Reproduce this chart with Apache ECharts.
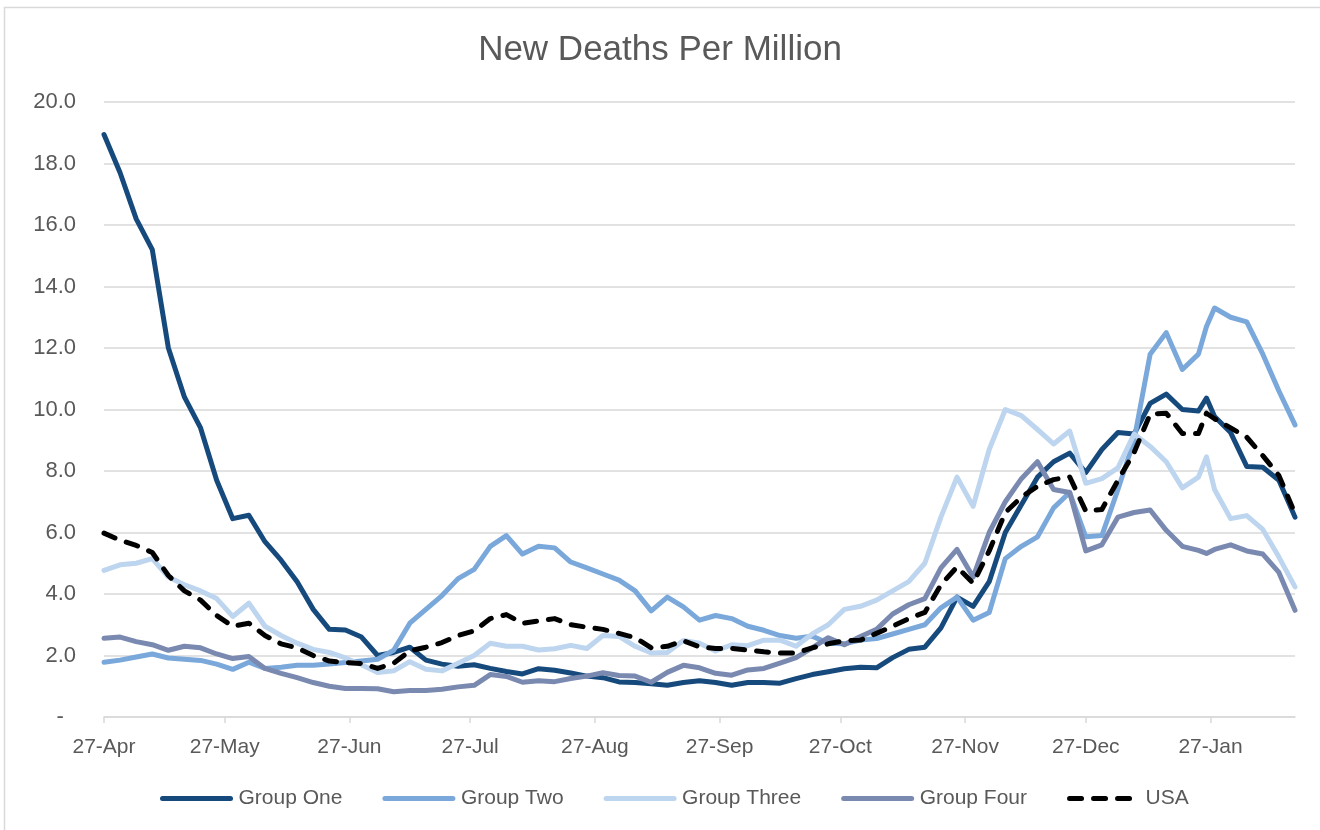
<!DOCTYPE html>
<html>
<head>
<meta charset="utf-8">
<title>New Deaths Per Million</title>
<script src="https://cdn.jsdelivr.net/npm/echarts@6/dist/echarts.min.js"></script>
<style>
  html, body { margin: 0; padding: 0; background: #fff; }
  #chart { width: 1320px; height: 830px; }
</style>
</head>
<body>
<div id="chart"></div>
<script>
var sampleDays = [0, 4, 8, 12, 16, 20, 24, 28, 32, 36, 40, 44, 48, 52, 56, 60, 64, 68, 72, 76,
  80, 84, 88, 92, 96, 100, 104, 108, 112, 116, 120, 124, 128, 132, 136, 140, 144, 148, 152, 156,
  160, 164, 168, 172, 176, 180, 184, 188, 192, 196, 200, 204, 208, 212, 216, 220, 224, 228, 232, 236,
  240, 244, 248, 252, 256, 260, 264, 268, 272, 274, 276, 280, 284, 288, 292, 296];

// axis ticks (27th of each month)
var tickDays = [0, 30, 61, 91, 122, 153, 183, 214, 244, 275];
var tickLabels = ['27-Apr', '27-May', '27-Jun', '27-Jul', '27-Aug', '27-Sep', '27-Oct', '27-Nov', '27-Dec', '27-Jan'];

var groupOne = [18.94, 17.7, 16.2, 15.2, 12.0, 10.4, 9.4, 7.7, 6.45, 6.56,
  5.7, 5.1, 4.4, 3.5, 2.85, 2.83, 2.6, 2.0, 2.1, 2.27,
  1.85, 1.72, 1.65, 1.7, 1.58, 1.48, 1.4, 1.57, 1.52, 1.43,
  1.33, 1.28, 1.14, 1.12, 1.08, 1.03, 1.12, 1.18, 1.12, 1.03,
  1.12, 1.12, 1.1, 1.25, 1.38, 1.47, 1.57, 1.62, 1.6, 1.93,
  2.2, 2.27, 2.9, 3.9, 3.6, 4.4, 6.0, 6.9, 7.8, 8.3,
  8.58, 7.95, 8.7, 9.25, 9.2, 10.2, 10.5, 10.0, 9.95, 10.37, 9.77,
  9.25, 8.15, 8.12, 7.7, 6.5];

var groupTwo = [1.78, 1.85, 1.95, 2.05, 1.92, 1.88, 1.84, 1.72, 1.55, 1.78,
  1.58, 1.62, 1.68, 1.68, 1.72, 1.77, 1.82, 1.88, 2.17, 3.05,
  3.5, 3.95, 4.5, 4.8, 5.55, 5.9, 5.3, 5.55, 5.5, 5.04,
  4.85, 4.65, 4.45, 4.1, 3.45, 3.9, 3.58, 3.15, 3.3, 3.2,
  2.95, 2.82, 2.65, 2.56, 2.63, 2.4, 2.38, 2.5, 2.55, 2.7,
  2.85, 3.0, 3.55, 3.9, 3.15, 3.4, 5.15, 5.55, 5.86, 6.8,
  7.3, 5.86, 5.9, 7.4, 9.0, 11.8, 12.5, 11.3, 11.8, 12.7, 13.3,
  13.0, 12.85, 11.8, 10.6, 9.5];

var groupThree = [4.77, 4.95, 5.0, 5.15, 4.55, 4.3, 4.1, 3.85, 3.27, 3.7,
  2.95, 2.65, 2.4, 2.2, 2.1, 1.92, 1.7, 1.45, 1.5, 1.8,
  1.55, 1.5, 1.75, 2.0, 2.4, 2.3, 2.3, 2.18, 2.22, 2.33,
  2.23, 2.65, 2.62, 2.3, 2.08, 2.1, 2.49, 2.4, 2.15, 2.35,
  2.32, 2.5, 2.5, 2.3, 2.7, 3.0, 3.5, 3.6, 3.8, 4.1,
  4.4, 5.0, 6.5, 7.8, 6.85, 8.7, 10.0, 9.8, 9.35, 8.88,
  9.3, 7.6, 7.75, 8.1, 9.2, 8.8, 8.3, 7.45, 7.8, 8.46, 7.4,
  6.45, 6.55, 6.1, 5.2, 4.23];

var groupFour = [2.56, 2.6, 2.45, 2.35, 2.17, 2.3, 2.25, 2.05, 1.9, 1.97,
  1.58, 1.42, 1.28, 1.12, 1.0, 0.93, 0.93, 0.92, 0.82, 0.86,
  0.86, 0.9, 0.98, 1.03, 1.38, 1.32, 1.13, 1.18, 1.15, 1.25,
  1.33, 1.44, 1.35, 1.33, 1.13, 1.45, 1.68, 1.6, 1.42, 1.36,
  1.53, 1.58, 1.75, 1.93, 2.25, 2.58, 2.35, 2.62, 2.85, 3.35,
  3.65, 3.85, 4.85, 5.45, 4.55, 6.0, 7.0, 7.75, 8.3, 7.4,
  7.3, 5.4, 5.6, 6.5, 6.65, 6.73, 6.07, 5.55, 5.42, 5.32, 5.45,
  5.6, 5.4, 5.3, 4.7, 3.47];

var usa = [5.98, 5.75, 5.58, 5.35, 4.6, 4.1, 3.8, 3.3, 2.95, 3.05,
  2.65, 2.38, 2.25, 2.0, 1.82, 1.77, 1.74, 1.58, 1.75, 2.15,
  2.27, 2.42, 2.65, 2.8, 3.2, 3.33, 3.05, 3.12, 3.2, 3.0,
  2.92, 2.85, 2.72, 2.58, 2.25, 2.3, 2.48, 2.28, 2.23, 2.23,
  2.18, 2.12, 2.08, 2.08, 2.25, 2.38, 2.48, 2.5, 2.72, 2.95,
  3.2, 3.4, 4.3, 4.88, 4.35, 5.4, 6.65, 7.15, 7.5, 7.72,
  7.81, 6.7, 6.75, 7.7, 8.6, 9.85, 9.88, 9.22, 9.22, 9.88, 9.7,
  9.4, 9.1, 8.5, 7.85, 6.62];

var textColor = '#595959';
var font = '"Liberation Sans", Arial, sans-serif';
var lineWidth = 5;

function pairs(values) {
  return sampleDays.map(function (d, i) { return [d, values[i]]; });
}

function lineSeries(name, values, color, dashed) {
  return {
    name: name,
    type: 'line',
    data: pairs(values),
    symbol: 'none',
    showSymbol: false,
    lineStyle: {
      color: color,
      width: lineWidth,
      type: dashed ? [12, 12] : 'solid',
      cap: 'round',
      join: 'round'
    },
    itemStyle: { color: color }
  };
}

var myChart = echarts.init(document.getElementById('chart'));
myChart.setOption({
  animation: false,
  backgroundColor: '#fff',
  textStyle: { fontFamily: font },
  title: {
    text: 'New Deaths Per Million',
    left: 'center',
    top: 33,
    padding: 0,
    textStyle: { color: textColor, fontSize: 35, fontWeight: 'normal', fontFamily: font }
  },
  graphic: [{
    type: 'rect',
    shape: { x: 4.5, y: 7.5, width: 1330, height: 840 },
    style: { fill: 'none', stroke: '#d9d9d9', lineWidth: 1.5 },
    silent: true
  }],
  legend: {
    left: 155,
    top: 783,
    itemWidth: 68,
    itemHeight: 14,
    itemGap: 40,
    itemStyle: { opacity: 0 },
    lineStyle: { width: lineWidth },
    textStyle: { color: textColor, fontSize: 21, fontFamily: font, padding: [0, 0, 0, 3] },
    data: ['Group One', 'Group Two', 'Group Three', 'Group Four', 'USA']
  },
  grid: { left: 104, right: 25, top: 102, bottom: 113, containLabel: false },
  xAxis: {
    type: 'value',
    min: 0,
    max: 296,
    splitLine: { show: false },
    axisLine: { show: true, lineStyle: { color: '#d9d9d9', width: 1.5 } },
    axisTick: {
      show: true,
      length: 6,
      customValues: tickDays,
      lineStyle: { color: '#d9d9d9', width: 1.5 }
    },
    axisLabel: {
      customValues: tickDays,
      margin: 20,
      color: textColor,
      fontSize: 21,
      fontFamily: font,
      formatter: function (v) {
        var i = tickDays.indexOf(Math.round(v));
        return i >= 0 ? tickLabels[i] : '';
      }
    }
  },
  yAxis: {
    type: 'value',
    min: 0,
    max: 20,
    interval: 2,
    axisLine: { show: false },
    axisTick: { show: false },
    splitLine: { lineStyle: { color: '#d9d9d9', width: 1.5 } },
    axisLabel: {
      margin: 28,
      color: textColor,
      fontSize: 22,
      fontFamily: font,
      formatter: function (v) { return v === 0 ? '-  ' : v.toFixed(1); }
    }
  },
  series: [
    lineSeries('Group One', groupOne, '#174a7c'),
    lineSeries('Group Two', groupTwo, '#7aa8da'),
    lineSeries('Group Three', groupThree, '#bdd5ee'),
    lineSeries('Group Four', groupFour, '#7a89b0'),
    lineSeries('USA', usa, '#000000', true)
  ]
});
window.onresize = function () {
  myChart.resize();
};
</script>
</body>
</html>
